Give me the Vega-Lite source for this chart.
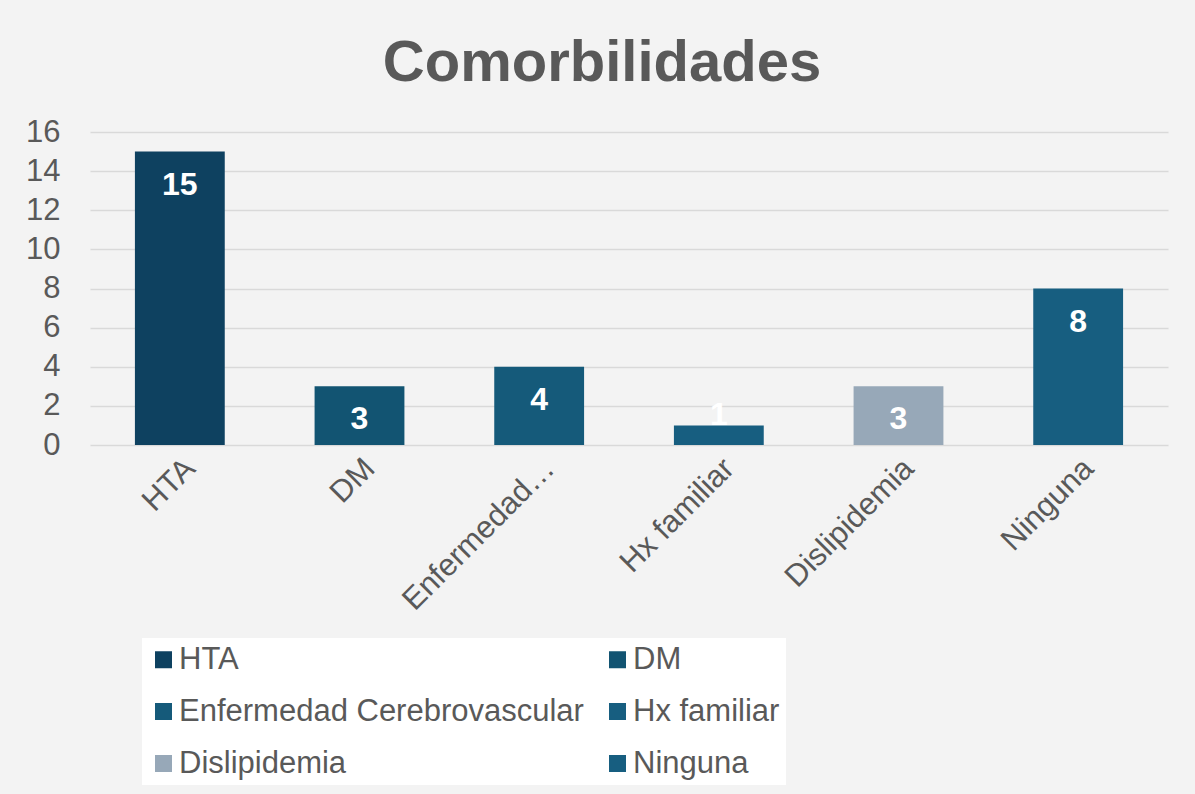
{
  "$schema": "https://vega.github.io/schema/vega-lite/v6.json",
  "width": 1078,
  "height": 313,
  "autosize": {"type": "none"},
  "padding": {"left": 90, "top": 132, "right": 27, "bottom": 349},
  "background": "#f3f3f3",
  "title": {
    "text": "Comorbilidades",
    "font": "Liberation Sans",
    "fontSize": 58,
    "fontWeight": "bold",
    "color": "#595959",
    "anchor": "middle",
    "dx": -27,
    "offset": 23
  },
  "config": {
    "view": {"stroke": null},
    "font": "Liberation Sans"
  },
  "data": {
    "values": [
      {"cat": "HTA", "value": 15},
      {"cat": "DM", "value": 3},
      {"cat": "Enfermedad Cerebrovascular", "value": 4},
      {"cat": "Hx familiar", "value": 1},
      {"cat": "Dislipidemia", "value": 3},
      {"cat": "Ninguna", "value": 8}
    ]
  },
  "encoding": {
    "x": {
      "field": "cat",
      "type": "nominal",
      "sort": null,
      "scale": {"paddingInner": 0.5, "paddingOuter": 0.25},
      "axis": {
        "title": null,
        "labelAngle": -45,
        "labelFontSize": 31,
        "labelColor": "#595959",
        "labelExpr": "datum.label == 'Enfermedad Cerebrovascular' ? 'Enfermedad…' : datum.label",
        "labelLimit": 400,
        "ticks": false,
        "domain": false,
        "labelPadding": 8
      }
    },
    "y": {
      "field": "value",
      "type": "quantitative",
      "scale": {"domain": [0, 16]},
      "axis": {
        "title": null,
        "values": [0, 2, 4, 6, 8, 10, 12, 14, 16],
        "labelFontSize": 31,
        "labelColor": "#595959",
        "ticks": false,
        "domain": false,
        "labelPadding": 30,
        "gridColor": "#d9d9d9",
        "gridWidth": 1.5
      }
    }
  },
  "layer": [
    {
      "mark": {"type": "bar"},
      "encoding": {
        "color": {
          "field": "cat",
          "type": "nominal",
          "sort": null,
          "scale": {
            "domain": ["HTA", "DM", "Enfermedad Cerebrovascular", "Hx familiar", "Dislipidemia", "Ninguna"],
            "range": ["#0e4160", "#125472", "#155a7a", "#175e80", "#97a8b8", "#175e80"]
          },
          "legend": {
            "title": null,
            "orient": "none",
            "legendX": 52,
            "legendY": 506,
            "direction": "horizontal",
            "columns": 2,
            "columnPadding": 18,
            "rowPadding": 20,
            "symbolType": "square",
            "symbolSize": 289,
            "symbolStrokeWidth": 0,
            "symbolOpacity": 1,
            "labelFontSize": 31,
            "labelColor": "#595959",
            "labelOffset": 0,
            "labelLimit": 600,
            "fillColor": "#ffffff",
            "padding": 6
          }
        }
      }
    },
    {
      "transform": [{"filter": "datum.value >= 2"}],
      "mark": {"type": "text", "color": "white", "fontWeight": "bold", "fontSize": 32, "baseline": "alphabetic", "dy": 43},
      "encoding": {"text": {"field": "value", "type": "quantitative"}}
    },
    {
      "transform": [{"filter": "datum.value < 2"}],
      "mark": {"type": "text", "color": "white", "fontWeight": "bold", "fontSize": 32, "baseline": "alphabetic", "dy": 0},
      "encoding": {"text": {"field": "value", "type": "quantitative"}}
    }
  ]
}
